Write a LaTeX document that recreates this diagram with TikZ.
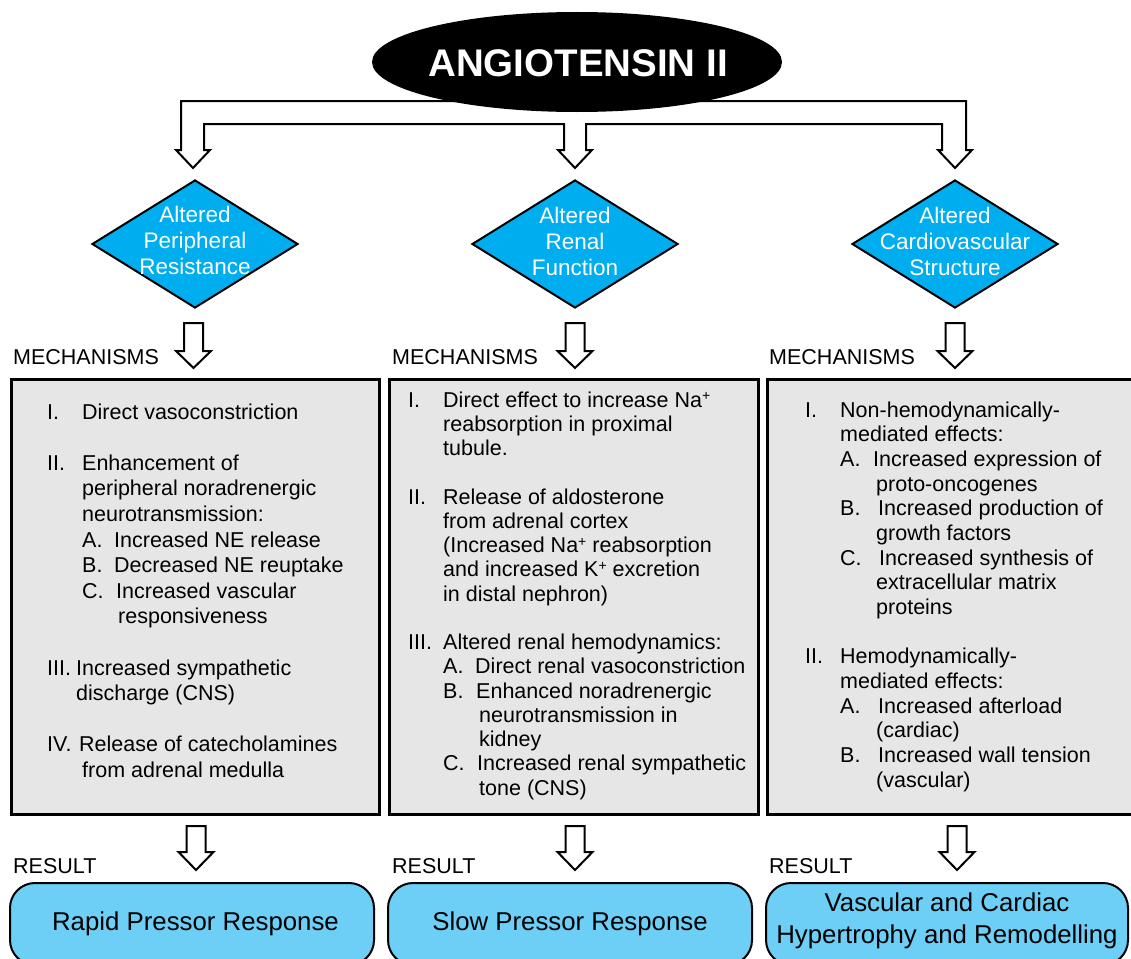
\documentclass[tikz,border=0pt]{standalone}
\usepackage{fontspec}
\setmainfont{Liberation Sans}
\usetikzlibrary{shapes.geometric}
\definecolor{diamondblue}{HTML}{00AEEF}
\definecolor{resblue}{HTML}{6DCFF6}
\definecolor{boxgray}{HTML}{E6E6E6}
% hollow block arrow: cx, top, base of head, tip, half shaft, half head
\newcommand\hollowarrow[6]{%
  \filldraw[harrow] ({#1-#5},#2) -- ({#1+#5},#2) -- ({#1+#5},#3) -- ({#1+#6},#3)
    -- (#1,#4) -- ({#1-#6},#3) -- ({#1-#5},#3) -- cycle;}
\newcommand\lineA[4]{\node[txt] (#1) at (#2,{419+25.6*(#3)}) {#4};}
\newcommand\lineB[4]{\node[txt] (#1) at (#2,{407+24.25*(#3)}) {#4};}
\newcommand\lineC[4]{\node[txt] (#1) at (#2,{417+24.67*(#3)}) {#4};}
\newcommand\plus{\raisebox{0.55ex}{\fontsize{14}{14}\selectfont +}}
\begin{document}
\begin{tikzpicture}[x=1pt,y=-1pt,
  harrow/.style={draw=black, fill=white, line width=2pt, line join=miter},
  gbox/.style={draw=black, fill=boxgray, line width=2.5pt, inner sep=0pt, anchor=north west},
  txt/.style={anchor=base west, inner sep=0pt, font=\fontsize{21.5}{25}\selectfont},
  dia/.style={diamond, draw=black, fill=diamondblue, line width=2pt, minimum width=206pt, minimum height=128pt, inner sep=0pt},
  diatxt/.style={align=center, text=white, inner sep=0pt, font=\fontsize{22.5}{26}\selectfont},
  res/.style={draw=black, fill=resblue, line width=2pt, rounded corners=25pt, minimum height=82pt, inner sep=0pt},
  restxt/.style={align=center, inner sep=0pt, font=\fontsize{25.8}{32}\selectfont}]
\clip (0,0) rectangle (1131,958);
\fill[white] (0,0) rectangle (1131,958);

% top split arrow
\filldraw[harrow] (176,150) -- (181,150) -- (181,101) -- (966,101) -- (966,150) -- (972,150)
  -- (955,168) -- (938,150) -- (942,150) -- (942,124) -- (586,124) -- (586,150) -- (592,150)
  -- (575,168) -- (558,150) -- (564,150) -- (564,124) -- (204,124) -- (204,150) -- (210,150)
  -- (193,168) -- cycle;

% title
\node[ellipse, fill=black, minimum width=410pt, minimum height=100pt, inner sep=0pt] (ang) at (577,62) {};
\node[text=white, inner sep=0pt, font=\fontsize{38.5}{42}\selectfont\bfseries] (angt) at (578,63) {ANGIOTENSIN II};

% diamonds
\node[dia] (d1) at (195,244) {};
\node[dia] (d2) at (575,244) {};
\node[dia] (d3) at (955,244) {};
\node[diatxt] (d1t) at (195,240) {Altered\\Peripheral\\Resistance};
\node[diatxt] (d2t) at (575,241) {Altered\\Renal\\Function};
\node[diatxt] (d3t) at (955,241) {Altered\\Cardiovascular\\Structure};

% arrows to mechanisms
\hollowarrow{193.5}{323}{351}{368}{9.5}{17.5}
\hollowarrow{575}{323}{351}{368}{9.5}{17.5}
\hollowarrow{955}{323}{351}{368}{9.5}{17.5}

\node[txt] (m1) at (13,364) {MECHANISMS};
\node[txt] (m2) at (392,364) {MECHANISMS};
\node[txt] (m3) at (769,364) {MECHANISMS};

% boxes
\node[gbox, minimum width=368pt, minimum height=435pt] (b1) at (10,378) {};
\node[gbox, minimum width=369pt, minimum height=435pt] (b2) at (388,378) {};
\node[gbox, minimum width=380pt, minimum height=435pt] (b3) at (766,378) {};

% box 1 text
\lineA{a0n}{47}{0}{I.}
\lineA{a0t}{82}{0}{Direct vasoconstriction}
\lineA{a2n}{47}{2}{II.}
\lineA{a2t}{82}{2}{Enhancement of}
\lineA{a3t}{82}{3}{peripheral noradrenergic}
\lineA{a4t}{82}{4}{neurotransmission:}
\lineA{a5n}{82}{5}{A.}
\lineA{a5t}{114}{5}{Increased NE release}
\lineA{a6n}{82}{6}{B.}
\lineA{a6t}{114}{6}{Decreased NE reuptake}
\lineA{a7n}{82}{7}{C.}
\lineA{a7t}{116}{7}{Increased vascular}
\lineA{a8t}{118}{8}{responsiveness}
\lineA{a10n}{47}{10}{III.}
\lineA{a10t}{76}{10}{Increased sympathetic}
\lineA{a11t}{76}{11}{discharge (CNS)}
\lineA{a13n}{47}{13}{IV.}
\lineA{a13t}{79}{13}{Release of catecholamines}
\lineA{a14t}{82}{14}{from adrenal medulla}

% box 2 text
\lineB{b0n}{408}{0}{I.}
\lineB{b0t}{443}{0}{Direct effect to increase Na\plus}
\lineB{b1t}{443}{1}{reabsorption in proximal}
\lineB{b2t}{443}{2}{tubule.}
\lineB{b4n}{408}{4}{II.}
\lineB{b4t}{443}{4}{Release of aldosterone}
\lineB{b5t}{443}{5}{from adrenal cortex}
\lineB{b6t}{443}{6}{(Increased Na\plus\ reabsorption}
\lineB{b7t}{443}{7}{and increased K\plus\ excretion}
\lineB{b8t}{443}{8}{in distal nephron)}
\lineB{b10n}{408}{10}{III.}
\lineB{b10t}{443}{10}{Altered renal hemodynamics:}
\lineB{b11n}{443}{11}{A.}
\lineB{b11t}{475}{11}{Direct renal vasoconstriction}
\lineB{b12n}{443}{12}{B.}
\lineB{b12t}{476}{12}{Enhanced noradrenergic}
\lineB{b13t}{479}{13}{neurotransmission in}
\lineB{b14t}{479}{14}{kidney}
\lineB{b15n}{443}{15}{C.}
\lineB{b15t}{477}{15}{Increased renal sympathetic}
\lineB{b16t}{479}{16}{tone (CNS)}

% box 3 text
\lineC{c0n}{805}{0}{I.}
\lineC{c0t}{840}{0}{Non-hemodynamically-}
\lineC{c1t}{840}{1}{mediated effects:}
\lineC{c2n}{840}{2}{A.}
\lineC{c2t}{873}{2}{Increased expression of}
\lineC{c3t}{876}{3}{proto-oncogenes}
\lineC{c4n}{840}{4}{B.}
\lineC{c4t}{878}{4}{Increased production of}
\lineC{c5t}{876}{5}{growth factors}
\lineC{c6n}{840}{6}{C.}
\lineC{c6t}{879}{6}{Increased synthesis of}
\lineC{c7t}{876}{7}{extracellular matrix}
\lineC{c8t}{876}{8}{proteins}
\lineC{c10n}{805}{10}{II.}
\lineC{c10t}{840}{10}{Hemodynamically-}
\lineC{c11t}{840}{11}{mediated effects:}
\lineC{c12n}{840}{12}{A.}
\lineC{c12t}{878}{12}{Increased afterload}
\lineC{c13t}{876}{13}{(cardiac)}
\lineC{c14n}{840}{14}{B.}
\lineC{c14t}{878}{14}{Increased wall tension}
\lineC{c15t}{876}{15}{(vascular)}

% arrows to results
\hollowarrow{196}{826}{852}{870}{9.5}{17.5}
\hollowarrow{575}{826}{852}{870}{9.5}{17.5}
\hollowarrow{957}{826}{852}{870}{9.5}{17.5}

\node[txt] (r1) at (13,873) {RESULT};
\node[txt] (r2) at (392,873) {RESULT};
\node[txt] (r3) at (769,873) {RESULT};

% result boxes
\node[res, minimum width=364pt] (res1) at (192,924) {};
\node[res, minimum width=364pt] (res2) at (570,924) {};
\node[res, minimum width=362pt] (res3) at (947,924) {};
\node[restxt] (res1t) at (195.5,924) {Rapid Pressor Response};
\node[restxt] (res2t) at (570,924) {Slow Pressor Response};
\node[restxt] (res3t) at (947,921) {Vascular and Cardiac\\Hypertrophy and Remodelling};
\end{tikzpicture}
\end{document}
